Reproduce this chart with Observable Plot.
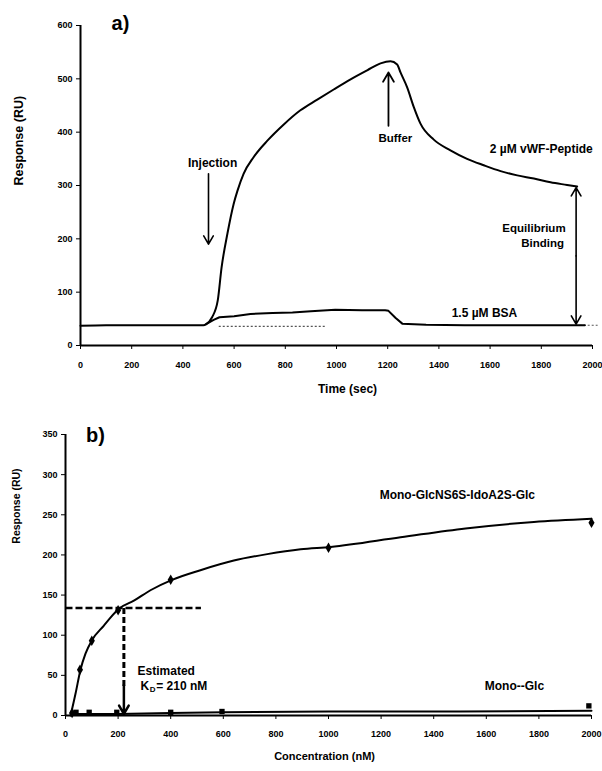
<!DOCTYPE html>
<html>
<head>
<meta charset="utf-8">
<script src="https://cdn.jsdelivr.net/npm/d3@7"></script>
<script src="https://cdn.jsdelivr.net/npm/@observablehq/plot@0.6"></script>
<style>
  body { margin: 0; background: #fff; }
  #chart svg { display: block; }
</style>
</head>
<body>
<div id="chart"></div>
<script>
// ---------- Panel a: sensorgram ----------
const timeTicks = [0, 200, 400, 600, 800, 1000, 1200, 1400, 1600, 1800, 2000];
const respTicksA = [0, 100, 200, 300, 400, 500, 600];

const vwfTime = [0, 100, 200, 300, 400, 480, 491, 514, 536, 551, 574, 598, 613, 637, 676, 730, 793, 859, 925, 989, 1055, 1120, 1172, 1211, 1237, 1250, 1276, 1302, 1328, 1380, 1445, 1510, 1575, 1641, 1706, 1771, 1836, 1901, 1940];
const vwfResp = [37, 38, 38, 38, 38, 38, 40, 53, 84, 146, 210, 265, 290, 322, 353, 384, 414, 441, 461, 480, 499, 516, 529, 533, 527, 512, 484, 447, 416, 386, 366, 350, 338, 327, 319, 313, 306, 301, 298];

const bsaTime = [491, 520, 543, 600, 664, 750, 828, 900, 995, 1100, 1190, 1203, 1230, 1257, 1350, 1500, 1700, 1900, 1970];
const bsaResp = [40, 48, 53, 55, 59, 61, 62, 64, 67, 66, 66, 65, 52, 41, 39, 38, 38, 38, 38];

// dotted reference baseline segments
const dotStart = [540, 1950];
const dotEnd = [960, 2020];
const dotResp = [36, 38];

// ---------- Panel b: binding isotherm ----------
const concTicks = [0, 200, 400, 600, 800, 1000, 1200, 1400, 1600, 1800, 2000];
const respTicksB = [0, 50, 100, 150, 200, 250, 300, 350];

const fitConc = [19, 25, 38, 57, 76, 101, 146, 171, 203, 260, 323, 405, 513, 640, 767, 894, 1008, 1274, 1521, 1781, 2000];
const fitResp = [0, 8, 27, 57, 77, 94, 112, 122, 133, 143, 156, 169, 181, 193, 201, 207, 210, 222, 233, 241, 245];
const sulfConc = [25, 55, 100, 200, 400, 1000, 2000];
const sulfResp = [3, 57, 93, 131, 169, 209, 240];

const glcLineConc = [20, 200, 400, 600, 1000, 1500, 2000];
const glcLineResp = [2, 2, 3, 4, 5, 5, 6];
const glcConc = [40, 90, 195, 400, 595, 1990];
const glcResp = [4, 4, 4, 4, 5, 12];

const kdEstimate = 222;   // position of dashed drop line (nM)
const halfResp = 134;     // dashed horizontal level (RU)
const dashEnd = 515;

const font = "'Liberation Sans', Arial, sans-serif";
const zip = (xs, ys) => xs.map((x, i) => ({x, y: ys[i]}));

const plotA = Plot.plot({
  width: 602, height: 410,
  marginLeft: 80, marginRight: 10, marginTop: 25, marginBottom: 65,
  style: {fontFamily: font, fontSize: "9px", fontWeight: "bold", background: "#fff", color: "#000", overflow: "visible"},
  x: {domain: [0, 2000]},
  y: {domain: [0, 600]},
  marks: [
    Plot.axisX({ticks: timeTicks, tickFormat: d => String(d), tickSize: 4, tickPadding: 12, label: null, fontSize: 9}),
    Plot.axisY({ticks: respTicksA, tickFormat: d => String(d), tickSize: 4, tickPadding: 4, label: null, fontSize: 9}),
    Plot.ruleY([0], {stroke: "#000", strokeWidth: 2}),
    Plot.ruleX([0], {y1: 0, y2: 600, stroke: "#000", strokeWidth: 2}),
    Plot.link(dotStart.map((s, i) => ({s, e: dotEnd[i], y: dotResp[i]})), {x1: "s", x2: "e", y1: "y", y2: "y", stroke: "#555", strokeWidth: 1.2, strokeDasharray: "2,2"}),
    Plot.line(zip(bsaTime, bsaResp), {x: "x", y: "y", stroke: "#000", strokeWidth: 2}),
    Plot.line(zip(vwfTime, vwfResp), {x: "x", y: "y", stroke: "#000", strokeWidth: 2, curve: "monotone-x"}),
    // arrows
    Plot.arrow([{x1: 500, y1: 322, x2: 500, y2: 190}], {x1: "x1", y1: "y1", x2: "x2", y2: "y2", stroke: "#000", strokeWidth: 1.6, headLength: 9}),
    Plot.arrow([{x1: 1203, y1: 412, x2: 1203, y2: 512}], {x1: "x1", y1: "y1", x2: "x2", y2: "y2", stroke: "#000", strokeWidth: 1.8, headLength: 9}),
    Plot.arrow([{x1: 1936, y1: 168, x2: 1936, y2: 296}, {x1: 1936, y1: 168, x2: 1936, y2: 40}], {x1: "x1", y1: "y1", x2: "x2", y2: "y2", stroke: "#000", strokeWidth: 1.6, headLength: 9}),
    // labels
    Plot.text(["a)"], {x: 156, y: 604, fontSize: 20, fontWeight: "bold", textAnchor: "middle"}),
    Plot.text(["Injection"], {x: 516, y: 341, fontSize: 12, fontWeight: "bold"}),
    Plot.text(["Buffer"], {x: 1230, y: 388, fontSize: 11.5, fontWeight: "bold"}),
    Plot.text(["2 \u00b5M vWF-Peptide"], {x: 1800, y: 369, fontSize: 12, fontWeight: "bold"}),
    Plot.text(["Equilibrium"], {x: 1895, y: 219, fontSize: 11.5, fontWeight: "bold", textAnchor: "end"}),
    Plot.text(["Binding"], {x: 1889, y: 191, fontSize: 11.5, fontWeight: "bold", textAnchor: "end"}),
    Plot.text(["1.5 \u00b5M BSA"], {x: 1578, y: 60, fontSize: 12, fontWeight: "bold"}),
    Plot.text(["Response (RU)"], {frameAnchor: "left", dx: -62, rotate: -90, fontSize: 12.5, fontWeight: "bold"}),
    Plot.text(["Time (sec)"], {x: 1043, frameAnchor: "bottom", dy: 47, fontSize: 12, fontWeight: "bold"})
  ]
});

const plotB = Plot.plot({
  width: 602, height: 361,
  marginLeft: 65, marginRight: 11, marginTop: 24, marginBottom: 56,
  style: {fontFamily: font, fontSize: "9px", fontWeight: "bold", background: "#fff", color: "#000", overflow: "visible"},
  x: {domain: [0, 2000]},
  y: {domain: [0, 350]},
  marks: [
    Plot.axisX({ticks: concTicks, tickFormat: d => String(d), tickSize: 4, tickPadding: 11, label: null, fontSize: 9}),
    Plot.axisY({ticks: respTicksB, tickFormat: d => String(d), tickSize: 4, tickPadding: 4, label: null, fontSize: 9}),
    Plot.ruleY([0], {stroke: "#000", strokeWidth: 2}),
    Plot.ruleX([0], {y1: 0, y2: 350, stroke: "#000", strokeWidth: 2}),
    Plot.link([{x1: 0, x2: dashEnd, y: halfResp}], {x1: "x1", x2: "x2", y1: "y", y2: "y", stroke: "#000", strokeWidth: 2.5, strokeDasharray: "7,3"}),
    Plot.link([{x: kdEstimate, y1: halfResp, y2: 36}], {x1: "x", x2: "x", y1: "y1", y2: "y2", stroke: "#000", strokeWidth: 3, strokeDasharray: "6,3"}),
    Plot.arrow([{x: kdEstimate, y1: 38, y2: 2}], {x1: "x", x2: "x", y1: "y1", y2: "y2", stroke: "#000", strokeWidth: 2.5, headLength: 12}),
    Plot.line(zip(glcLineConc, glcLineResp), {x: "x", y: "y", stroke: "#000", strokeWidth: 2}),
    Plot.dot(zip(glcConc, glcResp), {x: "x", y: "y", symbol: "square", r: 3, fill: "#000"}),
    Plot.line(zip(fitConc, fitResp), {x: "x", y: "y", stroke: "#000", strokeWidth: 2, curve: "monotone-x"}),
    Plot.dot(zip(sulfConc, sulfResp), {x: "x", y: "y", symbol: "diamond", r: 3.2, fill: "#000"}),
    Plot.text(["b)"], {x: 114, y: 349, fontSize: 20, fontWeight: "bold"}),
    Plot.text(["Mono-GlcNS6S-IdoA2S-Glc"], {x: 1490, y: 275, fontSize: 12, fontWeight: "bold"}),
    Plot.text(["Mono--Glc"], {x: 1707, y: 36, fontSize: 12, fontWeight: "bold"}),
    Plot.text(["Estimated"], {x: 274, y: 55, fontSize: 12, fontWeight: "bold", textAnchor: "start"}),
    Plot.text(["K"], {x: 285, y: 36, fontSize: 12, fontWeight: "bold", textAnchor: "start"}),
    Plot.text(["D"], {x: 320, y: 33, fontSize: 8, fontWeight: "bold", textAnchor: "start"}),
    Plot.text(["= 210 nM"], {x: 345, y: 36, fontSize: 12, fontWeight: "bold", textAnchor: "start"}),
    Plot.text(["Response (RU)"], {y: 214, frameAnchor: "left", dx: -49, rotate: -90, fontSize: 10.5, fontWeight: "bold"}),
    Plot.text(["Concentration (nM)"], {x: 985, frameAnchor: "bottom", dy: 44, fontSize: 11, fontWeight: "bold"})
  ]
});

document.getElementById("chart").append(plotA, plotB);
</script>
</body>
</html>
